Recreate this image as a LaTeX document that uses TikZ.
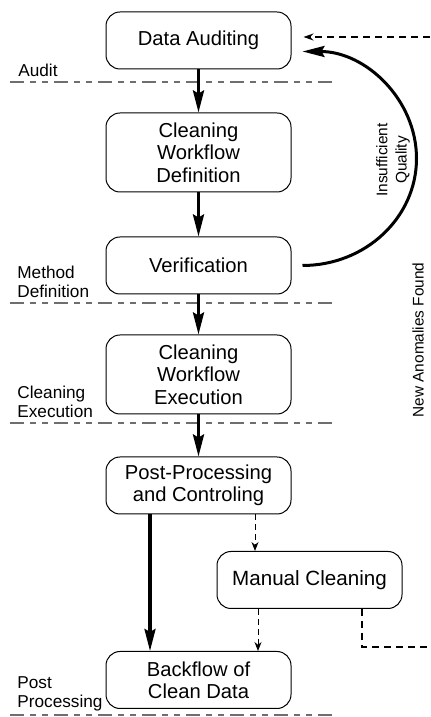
\documentclass[tikz,border=0pt]{standalone}
\usepackage{fontspec}
\setmainfont{Liberation Sans}
\usetikzlibrary{arrows.meta, positioning, calc}
\definecolor{phaseline}{RGB}{110,110,110}
\tikzset{
    stepbox/.style={rectangle, rounded corners=7pt, minimum width=92.5pt, minimum height=28.5pt, text centered, align=center, draw=black, line width=0.5pt, font=\fontsize{10.1pt}{11.2pt}\selectfont},
    tallbox/.style={stepbox, minimum height=39.5pt},
    flow/.style={line width=1.6pt, -{Stealth[length=11pt, width=5.5pt, inset=1.5pt]}},
    minor/.style={line width=0.5pt, dashed, dash pattern=on 3pt off 2pt, -{Stealth[length=4.5pt, width=3.5pt]}},
    feedback/.style={line width=0.7pt, dash pattern=on 3.5pt off 2.5pt, -{Stealth[length=5pt, width=3.5pt]}},
    phase/.style={draw=phaseline, line width=0.6pt, dash pattern=on 7pt off 3pt on 3pt off 3pt on 3pt off 3pt},
    phaselabel/.style={anchor=south west, inner sep=0pt, align=left, font=\fontsize{8.6pt}{9.5pt}\selectfont},
    sidelabel/.style={rotate=90, align=center, inner sep=0pt, font=\fontsize{7.7pt}{9.6pt}\selectfont}
}
\begin{document}
\begin{tikzpicture}[node distance=21pt]
    \useasboundingbox (0,0) rectangle (215pt,358.5pt);

    % Main chain
    \node (audit) [stepbox] at (99.25pt,338.25pt) {Data Auditing};
    \node (define) [tallbox, below=21.5pt of audit] {Cleaning\\Workflow\\Definition};
    \node (verify) [stepbox, below=22pt of define] {Verification};
    \node (execute) [tallbox, below=20pt of verify] {Cleaning\\Workflow\\Execution};
    \node (post) [stepbox, below=21pt of execute] {Post-Processing\\and Controling};
    \node (manual) [stepbox, font=\fontsize{10.3pt}{11.2pt}\selectfont] at (154.75pt,68.5pt) {Manual Cleaning};
    \node (backflow) [stepbox] at (99.25pt,18.5pt) {Backflow of\\Clean Data};

    % Phase borders
    \coordinate (pl) at (5pt,0);
    \coordinate (pr) at (168pt,0);
    \draw [phase] (pl |- 0,317.5pt) -- (pr |- 0,317.5pt);
    \draw [phase] (pl |- 0,207pt) -- (pr |- 0,207pt);
    \draw [phase] (pl |- 0,147pt) -- (pr |- 0,147pt);
    \draw [phase] (pl |- 0,1pt) -- (pr |- 0,1pt);
    \node [phaselabel] at (9pt,320pt) {Audit};
    \node [phaselabel] at (8.5pt,209.5pt) {Method\\Definition};
    \node [phaselabel] at (8.5pt,149.5pt) {Cleaning\\Execution};
    \node [phaselabel] at (8.5pt,3pt) {Post\\Processing};

    % Arrows
    \draw [flow] (audit) -- (define);
    \draw [flow] (define) -- (verify);
    \draw [flow] (verify) -- (execute);
    \draw [flow] (execute) -- (post);
    \draw [flow] ([xshift=-24.25pt]post.south) -- ([xshift=-24.25pt]post.south |- backflow.north);
    \draw [minor] ([xshift=28.25pt]post.south) -- ([xshift=28.25pt]post.south |- manual.north);
    \draw [minor] ([xshift=-25.75pt]manual.south) -- ([xshift=-25.75pt]manual.south |- backflow.north);

    % Loops back to the audit
    \draw [flow, line width=1.5pt] ([xshift=5.5pt]verify.east) arc[start angle=-90, end angle=90, x radius=57pt, y radius=107pt/2];
    \node [sidelabel] at (196.5pt,278.5pt) {Insufficient\\Quality};
    \coordinate (fbin) at ([xshift=6pt, yshift=1.75pt]audit.east);
    \coordinate (fbx) at (225pt,0);
    \draw [feedback] ([xshift=26.25pt]manual.south) -- ++(0,-19pt) -| (fbx |- fbin) -- (fbin);
    \node [sidelabel] at (209pt,188.5pt) {New Anomalies Found};
\end{tikzpicture}
\end{document}
